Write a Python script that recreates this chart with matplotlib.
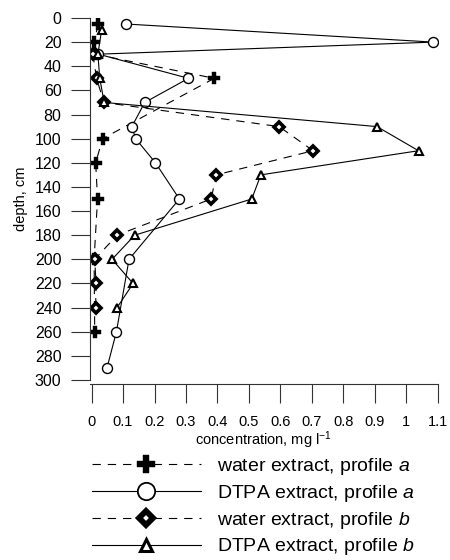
import numpy as np
import matplotlib
matplotlib.use('Agg')
import matplotlib.pyplot as plt
from matplotlib.lines import Line2D
from matplotlib.ticker import FuncFormatter

plt.rcParams['font.family'] = ['Liberation Sans', 'DejaVu Sans']
plt.rcParams['mathtext.fontset'] = 'custom'
plt.rcParams['mathtext.rm'] = 'Liberation Sans'
plt.rcParams['mathtext.it'] = 'Liberation Sans:italic'
plt.rcParams['mathtext.default'] = 'regular'
plt.rcParams['lines.scale_dashes'] = False

# water extract, profile a
water_a_depth = [5, 20, 30, 50, 100, 120, 150, 200, 260]
water_a = [0.021, 0.008, 0.010, 0.390, 0.035, 0.013, 0.019, 0.008, 0.010]

# DTPA extract, profile a
dtpa_a_depth = [5, 20, 30, 50, 70, 90, 100, 120, 150, 200, 260, 290]
dtpa_a = [0.109, 1.086, 0.022, 0.308, 0.169, 0.128, 0.140, 0.203, 0.279, 0.119, 0.079, 0.049]

# water extract, profile b
water_b_depth = [30, 50, 70, 90, 110, 130, 150, 180, 200, 220, 240]
water_b = [0.004, 0.016, 0.039, 0.596, 0.704, 0.396, 0.380, 0.081, 0.010, 0.014, 0.013]

# DTPA extract, profile b
dtpa_b_depth = [10, 30, 50, 70, 90, 110, 130, 150, 180, 200, 220, 240]
dtpa_b = [0.032, 0.020, 0.026, 0.040, 0.907, 1.039, 0.538, 0.509, 0.137, 0.065, 0.132, 0.081]

labels = ['water extract, profile $\\it{a}$',
          'DTPA extract, profile $\\it{a}$',
          'water extract, profile $\\it{b}$',
          'DTPA extract, profile $\\it{b}$']

fig = plt.figure(figsize=(4.5, 5.6), dpi=100)
ax = fig.add_axes([0.2, 0.3214, 0.7727, 0.6465])

dash = (6, 5)
lw = 0.8
# marker styles: plus, open circle, heavy diamond, open triangle
sty_wa = dict(marker='P', mfc='black', mec='black', mew=0.3)
sty_da = dict(marker='o', mfc='white', mec='black', mew=1.0)
sty_wb = dict(marker='D', mfc='white', mec='black', mew=2.6)
sty_db = dict(marker='^', mfc='white', mec='black', mew=1.5)

ax.plot(water_a, water_a_depth, color='black', lw=lw, dashes=dash, ms=8.2, **sty_wa)
ax.plot(dtpa_a, dtpa_a_depth, color='black', lw=lw, ms=7.2, **sty_da)
ax.plot(water_b, water_b_depth, color='black', lw=lw, dashes=dash, ms=4.6, **sty_wb)
ax.plot(dtpa_b, dtpa_b_depth, color='black', lw=lw, ms=5.6, **sty_db)

ax.set_xlim(-0.005, 1.1)
ax.set_ylim(300, 0)
ax.set_xticks(np.arange(0, 1.11, 0.1))
ax.xaxis.set_major_formatter(FuncFormatter(lambda v, p: '%g' % round(v, 1)))
ax.set_yticks(np.arange(0, 301, 20))

for s in ['top', 'right']:
    ax.spines[s].set_visible(False)
ax.spines['bottom'].set_position(('outward', 3))
for s in ['left', 'bottom']:
    ax.spines[s].set_linewidth(0.8)
    ax.spines[s].set_color('#333333')

ax.tick_params(axis='y', direction='out', length=13.5, width=0.8, color='#333333',
               labelsize=11.5, pad=7)
ax.tick_params(axis='x', direction='out', length=13.5, width=0.8, color='#333333',
               labelsize=10.5, pad=9)

ax.set_ylabel('depth, cm', fontsize=10.5, labelpad=5)
ax.set_xlabel('concentration, mg l$^{-1}$', fontsize=10.5, labelpad=0)

# bigger markers in the key
handles = [
    Line2D([], [], color='black', lw=lw, dashes=dash, ms=13, **sty_wa),
    Line2D([], [], color='black', lw=lw, ms=12.5, **dict(sty_da, mew=1.3)),
    Line2D([], [], color='black', lw=lw, dashes=dash, ms=7.5, **dict(sty_wb, mew=4.2)),
    Line2D([], [], color='black', lw=lw, ms=9, **dict(sty_db, mew=2.2)),
]
fig.legend(handles, labels, loc='upper left',
           bbox_to_anchor=(0.204, 0.186), frameon=False,
           fontsize=14, handlelength=5.6, handletextpad=0.85,
           labelspacing=0.3, borderaxespad=0, borderpad=0)

fig.savefig('out.png', dpi=100)
